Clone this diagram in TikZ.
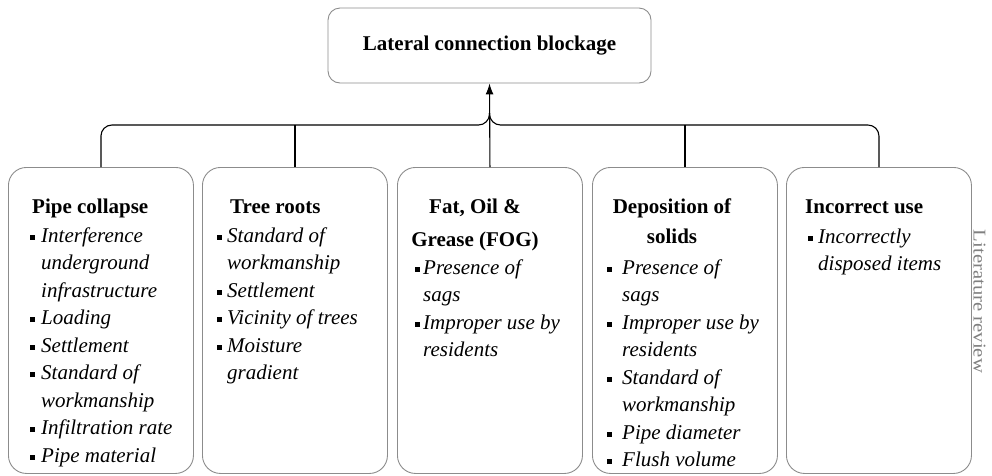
\documentclass[tikz,border=0pt]{standalone}
\usepackage{fontspec}
\setmainfont{Liberation Serif}
\usetikzlibrary{arrows.meta}

% square bullet and list lines with a hanging indent of width \bulw
\newlength{\bulw}
\newcommand{\sqbul}{\raisebox{2.5pt}{\rule{5pt}{5pt}}}
\newcommand{\bi}[1]{\makebox[\bulw][l]{\sqbul}\textit{#1}}
\newcommand{\ci}[1]{\hspace*{\bulw}\textit{#1}}

\tikzset{
  catbox/.style={draw=black!45, line width=0.9pt, rounded corners=18pt,
    minimum width=185pt, minimum height=306pt, anchor=north west, inner sep=0pt},
  topbox/.style={draw=black!45, line width=0.9pt, rounded corners=12pt,
    minimum width=323pt, minimum height=75pt, inner sep=0pt,
    font=\fontsize{21}{27.5}\selectfont\bfseries},
  head/.style={anchor=base west, inner sep=0pt, font=\fontsize{21}{27.5}\selectfont\bfseries},
  chead/.style={anchor=base, inner sep=0pt, font=\fontsize{21}{27.5}\selectfont\bfseries},
  items/.style={anchor=base west, inner sep=0pt, font=\fontsize{21}{27.5}\selectfont},
  link/.style={draw=black, line width=1.1pt},
  sidenote/.style={rotate=-90, text=black!50, inner sep=0pt, font=\fontsize{18}{22}\selectfont}
}

\begin{document}
\begin{tikzpicture}[x=1pt, y=-1pt]
\useasboundingbox (0,0) rectangle (992,475);

% root
\node[topbox] (top) at (489.5,45.5) {Lateral connection blockage};

% category boxes
\node[catbox] (b1) at (8,167)   {};
\node[catbox] (b2) at (202,167) {};
\node[catbox] (b3) at (397,167) {};
\node[catbox] (b4) at (592,167) {};
\node[catbox] (b5) at (786,167) {};

% connectors
\coordinate (bus) at (489.5,125);
\coordinate (hub) at (489.5,113);
\draw[link, rounded corners=11pt] (b1.north) |- (bus) -- (hub);
\draw[link, rounded corners=11pt] (b5.north) |- (bus) -- (hub);
\draw[link] (b2.north) -- (b2.north |- bus);
\draw[link] (b4.north) -- (b4.north |- bus);
\draw[link, -{Latex[length=11pt,width=8pt]}] (b3.north) -- (top.south);

% Pipe collapse
\node[head] (h1) at (32,213) {Pipe collapse};
\node[items] (l1) at (30,242) {\setlength{\bulw}{11pt}%
  \begin{tabular}[t]{@{}l@{}}
  \bi{Interference}\\ \ci{underground}\\ \ci{infrastructure}\\
  \bi{Loading}\\ \bi{Settlement}\\ \bi{Standard of}\\ \ci{workmanship}\\
  \bi{Infiltration rate}\\ \bi{Pipe material}
  \end{tabular}};

% Tree roots
\node[head] (h2) at (230,213) {Tree roots};
\node[items] (l2) at (217,242) {\setlength{\bulw}{10pt}%
  \begin{tabular}[t]{@{}l@{}}
  \bi{Standard of}\\ \ci{workmanship}\\ \bi{Settlement}\\
  \bi{Vicinity of trees}\\ \bi{Moisture}\\ \ci{gradient}
  \end{tabular}};

% Fat, Oil & Grease
\node[chead] (h3) at (475,213) {\begin{tabular}[t]{@{}c@{}}Fat, Oil \&\\[5.5pt] Grease (FOG)\end{tabular}};
\node[items] (l3) at (415,274) {\setlength{\bulw}{8pt}%
  \begin{tabular}[t]{@{}l@{}}
  \bi{Presence of}\\ \ci{sags}\\ \bi{Improper use by}\\ \ci{residents}
  \end{tabular}};

% Deposition of solids
\node[chead] (h4) at (672,213) {\begin{tabular}[t]{@{}c@{}}Deposition of\\[2.5pt] solids\end{tabular}};
\node[items] (l4) at (607,274) {\setlength{\bulw}{15pt}%
  \begin{tabular}[t]{@{}l@{}}
  \bi{Presence of}\\ \ci{sags}\\ \bi{Improper use by}\\ \ci{residents}\\
  \bi{Standard of}\\ \ci{workmanship}\\ \bi{Pipe diameter}\\ \bi{Flush volume}
  \end{tabular}};

% Incorrect use
\node[head] (h5) at (805,213) {Incorrect use};
\node[items] (l5) at (808,243) {\setlength{\bulw}{10pt}%
  \begin{tabular}[t]{@{}l@{}}
  \bi{Incorrectly}\\ \ci{disposed items}
  \end{tabular}};

% side label, set in a stretched face
\node[sidenote] (src) at (979.5,301.5) {\scalebox{1.15}[1]{Literature review}};
\end{tikzpicture}
\end{document}
